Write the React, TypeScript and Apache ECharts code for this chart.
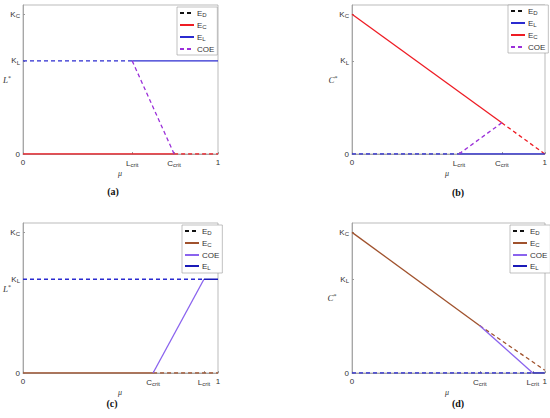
import React, { useEffect, useRef } from "react";
import * as echarts from "echarts";

// ---- values (x = mu in [0,1], y in units of K_L) ----
const K_L = 1;
const K_C = 1.5;
const Y_MAX = 1.6;

// panel (a)
const aLcrit = 0.56;
const aCcrit = 0.775;
// panel (b)
const bLcrit = 0.555;
const bCcrit = 0.777;
const bCatC = 0.335;
// panel (c)
const cCcrit = 0.667;
const cLcrit = 0.928;
// panel (d)
const dCcrit = 0.663;
const dLcrit = 0.938;
const dCatC = 0.505;
const dEndDash = 0.03;

const aEC = [[0, 0], [aCcrit, 0]];
const aECdash = [[aCcrit, 0], [1, 0]];
const aEL = [[aLcrit, K_L], [1, K_L]];
const aELdash = [[0, K_L], [aLcrit, K_L]];
const aCOE = [[aLcrit, K_L], [aCcrit, 0]];

const bEC = [[0, K_C], [bCcrit, bCatC]];
const bECdash = [[bCcrit, bCatC], [1, 0]];
const bEL = [[bLcrit, 0], [1, 0]];
const bELdash = [[0, 0], [bLcrit, 0]];
const bCOE = [[bLcrit, 0], [bCcrit, bCatC]];

const cEC = [[0, 0], [cCcrit, 0]];
const cECdash = [[cCcrit, 0], [1, 0]];
const cEL = [[cLcrit, K_L], [1, K_L]];
const cELdash = [[0, K_L], [cLcrit, K_L]];
const cCOE = [[cCcrit, 0], [cLcrit, K_L]];

const dEC = [[0, K_C], [dCcrit, dCatC]];
const dECdash = [[dCcrit, dCatC], [1, dEndDash]];
const dEL = [[dLcrit, 0], [1, 0]];
const dELdash = [[0, 0], [dLcrit, 0]];
const dCOE = [[dCcrit, dCatC], [dLcrit, 0]];

const yTickValues = [0, K_L, K_C];
const yTickLabels = ["0", "{b|K}{s|L}", "{b|K}{s|C}"];

const RED = "#ee1c24";
const BLUE = "#2b2bd0";
const PURPLE = "#9b30d9";
const BROWN = "#a0522d";
const VIOLET = "#8a63ee";
const NAVY = "#1a1ab8";
const DASH = [4, 3];
const FONT = "Liberation Sans";
const TXT = "#333";

const rich = {
  b: { fontSize: 8, fontFamily: FONT, color: TXT },
  s: { fontSize: 6, fontFamily: FONT, color: TXT, padding: [4, 0, 0, 0] },
};

const grids = [
  { left: 23, top: 5, width: 195, height: 149 },
  { left: 352, top: 5, width: 193, height: 149 },
  { left: 23, top: 223, width: 195, height: 150 },
  { left: 352, top: 223, width: 193, height: 150 },
];

const xTicks = [
  { vals: [0, aLcrit, aCcrit, 1], labels: ["0", "{b|L}{s|crit}", "{b|C}{s|crit}", "1"] },
  { vals: [0, bLcrit, bCcrit, 1], labels: ["0", "{b|L}{s|crit}", "{b|C}{s|crit}", "1"] },
  { vals: [0, cCcrit, cLcrit, 1], labels: ["0", "{b|C}{s|crit}", "{b|L}{s|crit}", "1"] },
  { vals: [0, dCcrit, dLcrit, 1], labels: ["0", "{b|C}{s|crit}", "{b|L}{s|crit}", "1"] },
];

const legendNames: Record<string, string> = {
  ED: "{b|E}{s|D}",
  EC: "{b|E}{s|C}",
  EL: "{b|E}{s|L}",
  COE: "{b|COE}",
};

function line(name: string, grid: number, data: number[][], color: string, dashed: boolean, z = 2) {
  return {
    type: "line",
    name,
    xAxisIndex: grid,
    yAxisIndex: grid,
    data,
    symbol: "none",
    showSymbol: false,
    z,
    lineStyle: { color, width: 1.3, type: dashed ? DASH : "solid" },
    itemStyle: { color },
  };
}

export default function App() {
  const ref = useRef<HTMLDivElement>(null);
  useEffect(() => {
    if (!ref.current) return;
    const chart = echarts.init(ref.current, undefined, { renderer: "svg" });
    const xAxis = grids.map((_, i) => ({
      type: "value",
      gridIndex: i,
      min: 0,
      max: 1,
      axisLine: { show: true, lineStyle: { color: "#999", width: 0.8 } },
      axisTick: {
        show: true,
        inside: true,
        length: 2,
        customValues: xTicks[i].vals,
        lineStyle: { color: "#999" },
      },
      axisLabel: {
        show: true,
        margin: 4,
        customValues: xTicks[i].vals,
        formatter: (v: number) => {
          const k = xTicks[i].vals.findIndex((t) => Math.abs(t - v) < 1e-6);
          return k >= 0 ? xTicks[i].labels[k] : "";
        },
        rich,
        fontSize: 8,
        fontFamily: FONT,
        color: TXT,
      },
      splitLine: { show: false },
    }));
    const yAxis = grids.map((_, i) => ({
      type: "value",
      gridIndex: i,
      min: 0,
      max: Y_MAX,
      axisLine: { show: true, lineStyle: { color: "#999", width: 0.8 } },
      axisTick: {
        show: true,
        inside: true,
        length: 2,
        customValues: yTickValues,
        lineStyle: { color: "#999" },
      },
      axisLabel: {
        show: true,
        margin: 3,
        customValues: yTickValues,
        formatter: (v: number) => {
          const k = yTickValues.findIndex((t) => Math.abs(t - v) < 1e-6);
          return k >= 0 ? yTickLabels[k] : "";
        },
        rich,
        fontSize: 8,
        fontFamily: FONT,
        color: TXT,
      },
      splitLine: { show: false },
    }));

    const series = [
      // (a)
      line("a:ED", 0, [], "#111", true),
      line("a:ELd", 0, aELdash, BLUE, true),
      line("a:ECd", 0, aECdash, RED, true),
      line("a:EC", 0, aEC, RED, false),
      line("a:EL", 0, aEL, BLUE, false),
      line("a:COE", 0, aCOE, PURPLE, true),
      // (b)
      line("b:ED", 1, [], "#111", true),
      line("b:ELd", 1, bELdash, BLUE, true),
      line("b:ECd", 1, bECdash, RED, true),
      line("b:EL", 1, bEL, BLUE, false),
      line("b:EC", 1, bEC, RED, false),
      line("b:COE", 1, bCOE, PURPLE, true),
      // (c)
      line("c:ED", 2, [], "#111", true),
      line("c:ELd", 2, cELdash, BLUE, true),
      line("c:ECd", 2, cECdash, BROWN, true),
      line("c:EC", 2, cEC, BROWN, false),
      line("c:COE", 2, cCOE, VIOLET, false),
      line("c:EL", 2, cEL, NAVY, false),
      // (d)
      line("d:ED", 3, [], "#111", true),
      line("d:ELd", 3, dELdash, BLUE, true),
      line("d:ECd", 3, dECdash, BROWN, true),
      line("d:EC", 3, dEC, BROWN, false),
      line("d:COE", 3, dCOE, VIOLET, false),
      line("d:EL", 3, dEL, NAVY, false),
    ];

    const legendOrders = [
      ["a:ED", "a:EC", "a:EL", "a:COE"],
      ["b:ED", "b:EL", "b:EC", "b:COE"],
      ["c:ED", "c:EC", "c:COE", "c:EL"],
      ["d:ED", "d:EC", "d:COE", "d:EL"],
    ];
    const legendPos = [
      { left: 177, top: 7 },
      { left: 508, top: 5 },
      { left: 182, top: 225 },
      { left: 510, top: 225 },
    ];
    const legend = legendOrders.map((d, i) => ({
      data: d,
      orient: "vertical",
      left: legendPos[i].left,
      top: legendPos[i].top,
      itemWidth: 14,
      itemHeight: 6,
      itemGap: 3,
      padding: [2, 3, 2, 2],
      borderColor: "#999",
      borderWidth: 0.6,
      backgroundColor: "#fff",
      selectedMode: false,
      itemStyle: { opacity: 0 },
      formatter: (n: string) => legendNames[n.split(":")[1]],
      textStyle: { rich, fontSize: 8, fontFamily: FONT, color: TXT, padding: [0, 0, 0, -2] },
    }));

    const captions = ["(a)", "(b)", "(c)", "(d)"];
    const capPos = [
      [113, 191],
      [458, 192],
      [112, 403],
      [458, 403],
    ];
    const yNames = ["L", "C", "L", "C"];
    const yNamePos = [
      [7, 80],
      [333, 80],
      [7, 289],
      [332, 298],
    ];
    const muPos = [
      [120, 173],
      [447, 173],
      [120, 392],
      [447, 392],
    ];
    const graphic: any[] = [];
    for (let i = 0; i < 4; i++) {
      const g = grids[i];
      graphic.push({
        type: "rect",
        shape: { x: g.left, y: g.top, width: g.width, height: g.height },
        style: { fill: "none", stroke: "#aaa", lineWidth: 0.8 },
        silent: true,
        z: 0,
      });
      graphic.push({
        type: "text",
        x: capPos[i][0],
        y: capPos[i][1],
        style: {
          text: captions[i],
          font: "bold 10px 'Liberation Serif'",
          fill: "#111",
          align: "center",
          verticalAlign: "middle",
        },
      });
      graphic.push({
        type: "text",
        x: yNamePos[i][0],
        y: yNamePos[i][1],
        style: {
          text: "{i|" + yNames[i] + "}{p|*}",
          rich: {
            i: { fontSize: 9, fontFamily: "Liberation Serif", fontStyle: "italic", fill: TXT },
            p: { fontSize: 6, fontFamily: "Liberation Serif", fill: TXT, padding: [0, 0, 4, 0] },
          },
          align: "center",
          verticalAlign: "middle",
        },
      });
      graphic.push({
        type: "text",
        x: muPos[i][0],
        y: muPos[i][1],
        style: {
          text: "μ",
          font: "italic 8px 'Liberation Serif'",
          fill: TXT,
          align: "center",
          verticalAlign: "middle",
        },
      });
    }

    chart.setOption({
      animation: false,
      backgroundColor: "#fff",
      grid: grids.map((g) => ({ ...g, containLabel: false })),
      xAxis,
      yAxis,
      legend,
      series,
      graphic,
    });
    return () => chart.dispose();
  }, []);
  return (
    <div
      ref={ref}
      style={{ position: "fixed", left: 0, top: 0, width: 550, height: 418 }}
    />
  );
}
